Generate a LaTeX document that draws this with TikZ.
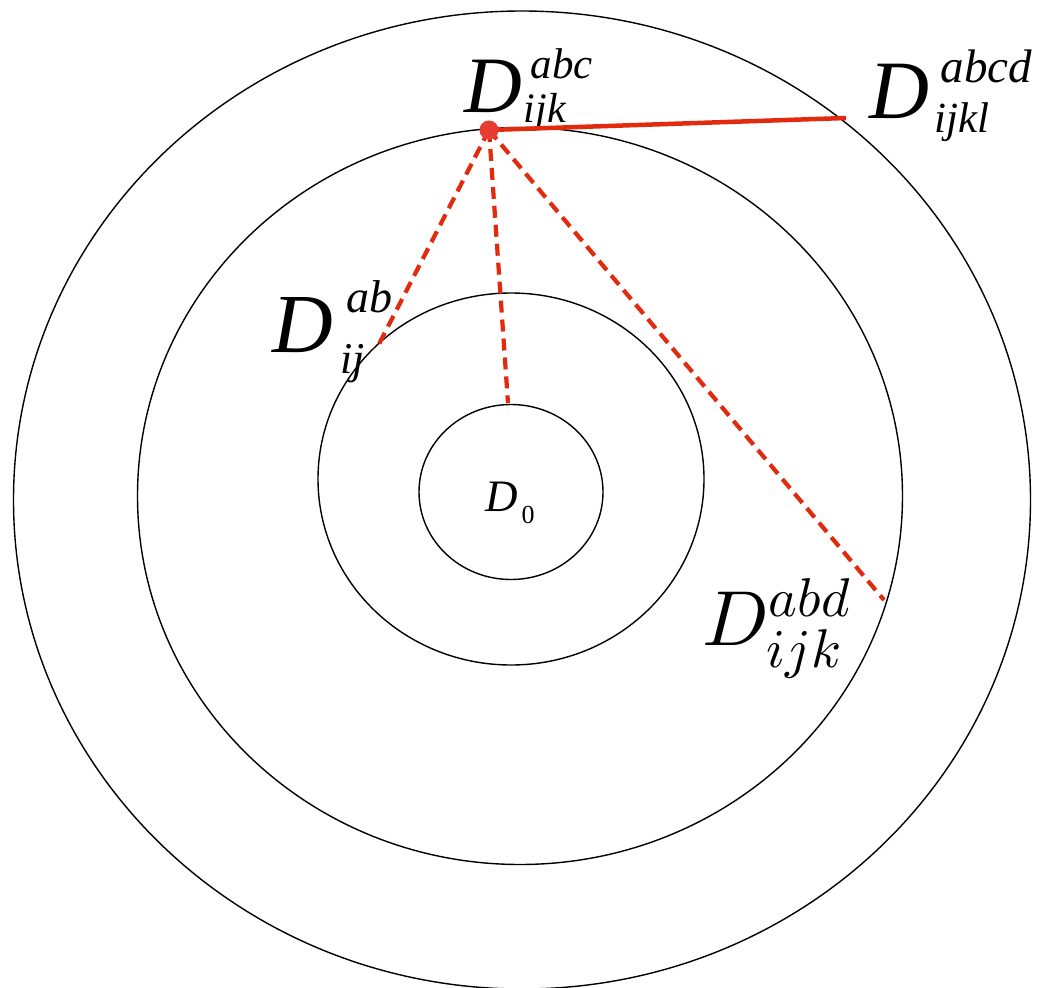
\documentclass[tikz,border=0pt]{standalone}
\usepackage[no-math]{fontspec}
\setmainfont{Liberation Serif}
\DeclareFontShape{OML}{cmm}{m}{it}{<-5.5> cmmi5 <5.5-6.5> cmmi6 <6.5-7.5> cmmi7 <7.5-8.5> cmmi8 <8.5-9.5> cmmi9 <9.5-> cmmi10}{}
\DeclareFontShape{OMS}{cmsy}{m}{n}{<-5.5> cmsy5 <5.5-6.5> cmsy6 <6.5-7.5> cmsy7 <7.5-8.5> cmsy8 <8.5-9.5> cmsy9 <9.5-> cmsy10}{}
\DeclareFontShape{OMX}{cmex}{m}{n}{<-> cmex10}{}
\usetikzlibrary{shapes.geometric}
\definecolor{lred}{RGB}{226,42,14}
\definecolor{dred}{RGB}{232,60,48}
\newcommand\pc[4]{\rlap{\hspace*{#1pt}\raisebox{#2pt}{\fontsize{#3}{#3}\selectfont\itshape #4}}}
\begin{document}
\begin{tikzpicture}[x=1pt,y=-1pt,
  ring/.style={draw, ellipse, line width=1.4pt, inner sep=0pt},
  lab/.style={anchor=base west, inner sep=0pt},
  dashline/.style={lred, line width=4.2pt, dash pattern=on 12pt off 7pt},
  solidline/.style={lred, line width=4.5pt}]
\path[use as bounding box, fill=white] (0,0) rectangle (1037,988);
\node[ring, minimum width=1017pt, minimum height=978pt] (c1) at (522,500) {};
\node[ring, minimum width=765pt, minimum height=737pt] (c2) at (520,496) {};
\node[ring, minimum width=386pt, minimum height=372pt] (c3) at (511,479) {};
\node[ring, minimum width=184pt, minimum height=175pt] (c4) at (511,492) {};
% labels
\node[lab] (l0) at (485,511) {\pc{0}{0}{45}{D}\pc{36}{-12}{26}{\upshape 0}};
\node[lab] (labc) at (464,112) {\pc{0}{0}{80}{D}\pc{66}{34}{43}{abc}\pc{59}{-10}{42}{ijk}};
\node[lab] (labcd) at (869,118) {\pc{0}{0}{83}{D}\pc{71}{36}{47}{abcd}\pc{65}{-14}{43}{ijkl}};
\node[lab] (lab) at (272,352) {\pc{0}{0}{84}{D}\pc{74}{40}{46}{ab}\pc{68}{-21}{44}{ij}};
\node[lab] (labd) at (702,645) {\fontsize{78}{90}\selectfont$D^{abd}_{ijk}$};
% connectors
\coordinate (p) at (489,130);
\coordinate (e1) at (846,118);
\coordinate (e2) at (378,346);
\coordinate (e3) at (508,403);
\coordinate (e4) at (884,600);
\draw[solidline] (p) -- (e1);
\draw[dashline] (p) -- (e2);
\draw[dashline] (p) -- (e3);
\draw[dashline] (p) -- (e4);
\node[circle, fill=dred, minimum size=19pt, inner sep=0pt] (dot) at (p) {};
\end{tikzpicture}
\end{document}
